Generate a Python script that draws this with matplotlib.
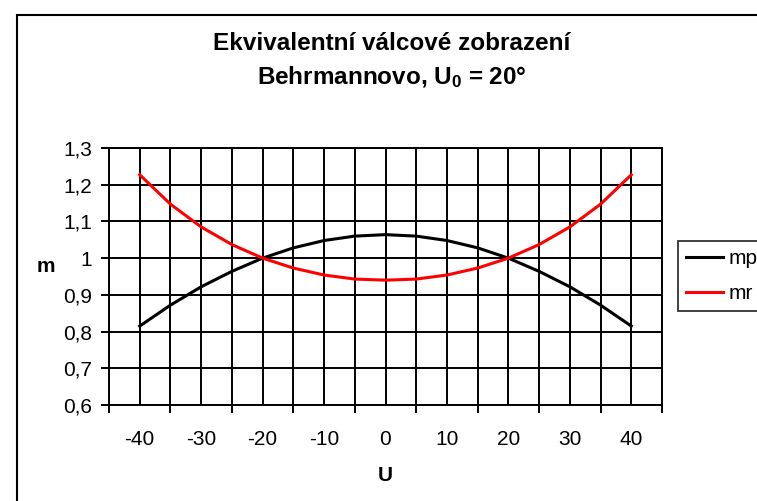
import matplotlib
matplotlib.use("Agg")
import matplotlib.pyplot as plt
from matplotlib.patches import Rectangle
from matplotlib.ticker import MultipleLocator, FixedLocator, FuncFormatter

plt.rcParams['font.family'] = ['Liberation Sans', 'DejaVu Sans']
plt.rcParams['mathtext.fontset'] = 'custom'
plt.rcParams['mathtext.bf'] = 'Liberation Sans:bold'
plt.rcParams['mathtext.rm'] = 'Liberation Sans:bold'
plt.rcParams['mathtext.default'] = 'bf'
plt.rcParams['axes.unicode_minus'] = False

# values
U = [-40, -35, -30, -25, -20, -15, -10, -5, 0, 5, 10, 15, 20, 25, 30, 35, 40]
mp = [0.815, 0.872, 0.922, 0.964, 1.000, 1.028, 1.048, 1.060, 1.064,
      1.060, 1.048, 1.028, 1.000, 0.964, 0.922, 0.872, 0.815]
mr = [1.227, 1.147, 1.085, 1.037, 1.000, 0.973, 0.954, 0.943, 0.940,
      0.943, 0.954, 0.973, 1.000, 1.037, 1.085, 1.147, 1.227]
x_labels = [-40, -30, -20, -10, 0, 10, 20, 30, 40]

W, H = 757, 501
fig = plt.figure(figsize=(W / 100, H / 100), dpi=100)

# outer chart frame (cut off at right and bottom like the screenshot)
fig.patches.append(Rectangle((17 / W, -0.1), 1.2, 1 - 15 / H + 0.1,
                             transform=fig.transFigure, fill=False,
                             edgecolor='black', linewidth=1.5))

ax = fig.add_axes([109 / W, 1 - 405 / H, (662 - 109) / W, (405 - 148) / H])

ax.plot(U, mp, color='black', linewidth=2.2, label='mp')
ax.plot(U, mr, color='#ff0000', linewidth=2.2, label='mr')

ax.set_xlim(-45, 45)
ax.set_ylim(0.6, 1.3)

ax.xaxis.set_major_locator(FixedLocator(x_labels))
ax.xaxis.set_minor_locator(MultipleLocator(10, offset=5))
ax.yaxis.set_major_locator(MultipleLocator(0.1))
ax.yaxis.set_major_formatter(FuncFormatter(
    lambda v, p: ('%.1f' % v).replace('.', ',').replace(',0', '')))

ax.tick_params(axis='x', which='major', length=0, pad=18, labelsize=15)
ax.tick_params(axis='x', which='minor', length=6, width=1.4, direction='out')
ax.tick_params(axis='y', length=6, width=1.4, direction='out', pad=6,
               labelsize=15)

ax.grid(True, which='both', axis='x', color='black', linewidth=1.4)
ax.grid(True, which='major', axis='y', color='black', linewidth=1.4)
ax.set_axisbelow(True)
for s in ax.spines.values():
    s.set_linewidth(1.4)

ax.set_xlabel('U', fontsize=15, fontweight='bold', labelpad=12)
ax.set_ylabel('m', fontsize=15, fontweight='bold', rotation=0,
              labelpad=0)
ax.yaxis.set_label_coords(-0.114, 0.5)

fig.text(392 / W, 1 - 43 / H, 'Ekvivalentní válcové zobrazení',
         ha='center', va='center', fontsize=17.5, fontweight='bold')
fig.text(392 / W, 1 - 77 / H, r'Behrmannovo, U$_{0}$ = 20°',
         ha='center', va='center', fontsize=17.5, fontweight='bold')

leg = ax.legend(loc='upper left', bbox_to_anchor=(678 / W, 1 - 241 / H),
                bbox_transform=fig.transFigure, fontsize=15, frameon=True,
                fancybox=False, handlelength=1.75, handletextpad=0.3,
                borderpad=0.4, labelspacing=0.75, borderaxespad=0)
leg.get_frame().set_edgecolor('black')
leg.get_frame().set_linewidth(1.3)

fig.savefig('out.png', dpi=100)
